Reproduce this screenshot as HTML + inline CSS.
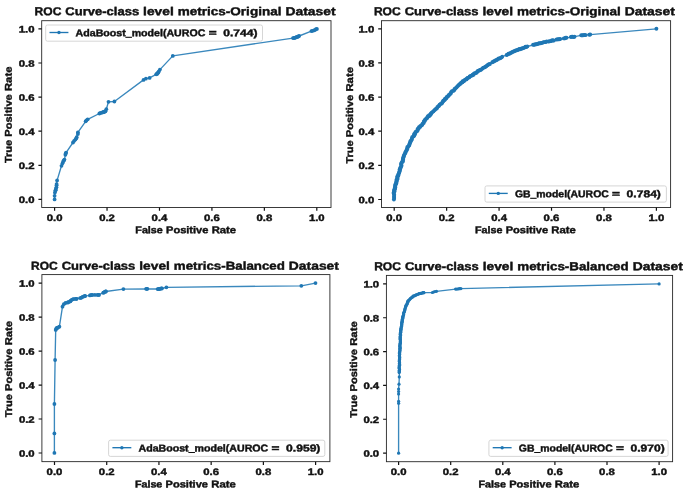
<!DOCTYPE html>
<html><head><meta charset="utf-8"><title>ROC Curves</title>
<style>html,body{margin:0;padding:0;background:#fff}svg{display:block;filter:blur(0.55px)}text{font-family:"Liberation Sans",sans-serif;font-weight:bold;stroke:#111;stroke-width:.42px}</style></head>
<body>
<svg width="685" height="491" viewBox="0 0 685 491" font-family="Liberation Sans, sans-serif" font-weight="bold" fill="#111">
<rect width="685" height="491" fill="#fff"/>
<polyline fill="none" stroke="#1f77b4" stroke-width="1.35" stroke-opacity="0.88" stroke-linejoin="round" points="54.6,199.4 54.6,195.8 54.9,192.6 55.6,190.2 56.4,187.3 56.6,184.1 57.1,180.4 61.5,165.8 63.2,161.4 64.4,159.6 65.4,154.8 66.1,152.6 73.0,142.5 75.4,139.6 76.7,137.2 77.9,132.3 85.7,121.3 87.7,119.3 99.4,113.5 102.3,112.5 103.8,112.2 105.5,111.3 106.3,109.2 108.5,101.8 114.4,101.5 143.5,79.9 145.9,78.7 149.6,77.9 156.2,74.3 157.2,73.6 158.2,72.5 159.9,69.6 172.8,55.9 293.0,38.1 294.7,37.8 296.0,37.3 297.3,36.9 299.1,36.0 311.4,31.1 314.0,30.4 316.0,29.2 316.9,28.9"/>
<g fill="#1f77b4"><circle cx="54.6" cy="199.4" r="1.9"/><circle cx="54.6" cy="195.8" r="1.9"/><circle cx="54.9" cy="192.6" r="1.9"/><circle cx="55.6" cy="190.2" r="1.9"/><circle cx="56.4" cy="187.3" r="1.9"/><circle cx="56.6" cy="184.1" r="1.9"/><circle cx="57.1" cy="180.4" r="1.9"/><circle cx="61.5" cy="165.8" r="1.9"/><circle cx="63.2" cy="161.4" r="1.9"/><circle cx="64.4" cy="159.6" r="1.9"/><circle cx="65.4" cy="154.8" r="1.9"/><circle cx="66.1" cy="152.6" r="1.9"/><circle cx="73.0" cy="142.5" r="1.9"/><circle cx="75.4" cy="139.6" r="1.9"/><circle cx="76.7" cy="137.2" r="1.9"/><circle cx="77.9" cy="132.3" r="1.9"/><circle cx="85.7" cy="121.3" r="1.9"/><circle cx="87.7" cy="119.3" r="1.9"/><circle cx="99.4" cy="113.5" r="1.9"/><circle cx="102.3" cy="112.5" r="1.9"/><circle cx="103.8" cy="112.2" r="1.9"/><circle cx="105.5" cy="111.3" r="1.9"/><circle cx="106.3" cy="109.2" r="1.9"/><circle cx="108.5" cy="101.8" r="1.9"/><circle cx="114.4" cy="101.5" r="1.9"/><circle cx="143.5" cy="79.9" r="1.9"/><circle cx="145.9" cy="78.7" r="1.9"/><circle cx="149.6" cy="77.9" r="1.9"/><circle cx="156.2" cy="74.3" r="1.9"/><circle cx="157.2" cy="73.6" r="1.9"/><circle cx="158.2" cy="72.5" r="1.9"/><circle cx="159.9" cy="69.6" r="1.9"/><circle cx="172.8" cy="55.9" r="1.9"/><circle cx="293.0" cy="38.1" r="1.9"/><circle cx="294.7" cy="37.8" r="1.9"/><circle cx="296.0" cy="37.3" r="1.9"/><circle cx="297.3" cy="36.9" r="1.9"/><circle cx="299.1" cy="36.0" r="1.9"/><circle cx="311.4" cy="31.1" r="1.9"/><circle cx="314.0" cy="30.4" r="1.9"/><circle cx="316.0" cy="29.2" r="1.9"/><circle cx="316.9" cy="28.9" r="1.9"/><circle cx="55.4" cy="190.7" r="1.9"/><circle cx="55.9" cy="189.0" r="1.9"/><circle cx="56.6" cy="185.3" r="1.9"/><circle cx="62.5" cy="163.3" r="1.9"/><circle cx="63.9" cy="160.4" r="1.9"/><circle cx="65.7" cy="153.5" r="1.9"/><circle cx="74.2" cy="140.8" r="1.9"/><circle cx="76.2" cy="138.4" r="1.9"/><circle cx="77.9" cy="134.0" r="1.9"/><circle cx="86.4" cy="120.3" r="1.9"/><circle cx="100.6" cy="113.0" r="1.9"/><circle cx="103.5" cy="112.0" r="1.9"/><circle cx="104.8" cy="111.5" r="1.9"/><circle cx="157.0" cy="73.9" r="1.9"/><circle cx="157.6" cy="73.2" r="1.9"/><circle cx="158.8" cy="71.5" r="1.9"/><circle cx="294.0" cy="38.0" r="1.9"/><circle cx="295.4" cy="37.6" r="1.9"/><circle cx="296.6" cy="37.1" r="1.9"/><circle cx="298.2" cy="36.5" r="1.9"/><circle cx="312.5" cy="30.8" r="1.9"/><circle cx="315.2" cy="29.8" r="1.9"/></g>
<rect x="41.70" y="20.70" width="289.30" height="186.80" fill="none" stroke="#262626" stroke-width="0.9"/>
<text x="46.72" y="220.87" font-size="9.35" textLength="15.77" lengthAdjust="spacingAndGlyphs" transform="matrix(1 0.0005 0 1 0 0)">0.0</text>
<text x="18.73" y="203.09" font-size="9.35" textLength="15.77" lengthAdjust="spacingAndGlyphs" transform="matrix(1 0.0005 0 1 0 0)">0.0</text>
<text x="99.16" y="220.85" font-size="9.35" textLength="15.77" lengthAdjust="spacingAndGlyphs" transform="matrix(1 0.0005 0 1 0 0)">0.2</text>
<text x="18.73" y="168.99" font-size="9.35" textLength="15.77" lengthAdjust="spacingAndGlyphs" transform="matrix(1 0.0005 0 1 0 0)">0.2</text>
<text x="151.60" y="220.82" font-size="9.35" textLength="15.77" lengthAdjust="spacingAndGlyphs" transform="matrix(1 0.0005 0 1 0 0)">0.4</text>
<text x="18.73" y="134.89" font-size="9.35" textLength="15.77" lengthAdjust="spacingAndGlyphs" transform="matrix(1 0.0005 0 1 0 0)">0.4</text>
<text x="204.04" y="220.79" font-size="9.35" textLength="15.77" lengthAdjust="spacingAndGlyphs" transform="matrix(1 0.0005 0 1 0 0)">0.6</text>
<text x="18.73" y="100.79" font-size="9.35" textLength="15.77" lengthAdjust="spacingAndGlyphs" transform="matrix(1 0.0005 0 1 0 0)">0.6</text>
<text x="256.48" y="220.77" font-size="9.35" textLength="15.77" lengthAdjust="spacingAndGlyphs" transform="matrix(1 0.0005 0 1 0 0)">0.8</text>
<text x="18.73" y="66.69" font-size="9.35" textLength="15.77" lengthAdjust="spacingAndGlyphs" transform="matrix(1 0.0005 0 1 0 0)">0.8</text>
<text x="308.92" y="220.74" font-size="9.35" textLength="15.77" lengthAdjust="spacingAndGlyphs" transform="matrix(1 0.0005 0 1 0 0)">1.0</text>
<text x="18.73" y="32.59" font-size="9.35" textLength="15.77" lengthAdjust="spacingAndGlyphs" transform="matrix(1 0.0005 0 1 0 0)">1.0</text>
<path d="M54.60 207.50v3.3 M41.70 199.40h-3.3 M107.04 207.50v3.3 M41.70 165.30h-3.3 M159.48 207.50v3.3 M41.70 131.20h-3.3 M211.92 207.50v3.3 M41.70 97.10h-3.3 M264.36 207.50v3.3 M41.70 63.00h-3.3 M316.80 207.50v3.3 M41.70 28.90h-3.3" stroke="#111" stroke-width="1.2" fill="none"/>
<text x="34.62" y="15.18" font-size="11.61" textLength="26.79" lengthAdjust="spacingAndGlyphs" transform="matrix(1 0.0005 0 1 0 0)">ROC</text>
<text x="65.37" y="15.15" font-size="11.61" textLength="73.80" lengthAdjust="spacingAndGlyphs" transform="matrix(1 0.0005 0 1 0 0)">Curve-class</text>
<text x="143.13" y="15.12" font-size="11.61" textLength="30.66" lengthAdjust="spacingAndGlyphs" transform="matrix(1 0.0005 0 1 0 0)">level</text>
<text x="177.75" y="15.09" font-size="11.61" textLength="103.69" lengthAdjust="spacingAndGlyphs" transform="matrix(1 0.0005 0 1 0 0)">metrics-Original</text>
<text x="285.40" y="15.04" font-size="11.61" textLength="50.18" lengthAdjust="spacingAndGlyphs" transform="matrix(1 0.0005 0 1 0 0)">Dataset</text>
<text x="135.36" y="233.23" font-size="9.87" textLength="27.41" lengthAdjust="spacingAndGlyphs" transform="matrix(1 0.0005 0 1 0 0)">False</text>
<text x="166.04" y="233.21" font-size="9.87" textLength="42.38" lengthAdjust="spacingAndGlyphs" transform="matrix(1 0.0005 0 1 0 0)">Positive</text>
<text x="211.69" y="233.19" font-size="9.87" textLength="24.45" lengthAdjust="spacingAndGlyphs" transform="matrix(1 0.0005 0 1 0 0)">Rate</text>
<g transform="translate(11.80 114.80) rotate(-90)"><text x="-48.23" y="0.02" font-size="9.87" textLength="23.08" lengthAdjust="spacingAndGlyphs" transform="matrix(1 0.0005 0 1 0 0)">True</text>
<text x="-21.88" y="0.00" font-size="9.87" textLength="42.38" lengthAdjust="spacingAndGlyphs" transform="matrix(1 0.0005 0 1 0 0)">Positive</text>
<text x="23.78" y="-0.02" font-size="9.87" textLength="24.45" lengthAdjust="spacingAndGlyphs" transform="matrix(1 0.0005 0 1 0 0)">Rate</text></g>
<rect x="45.70" y="25.00" width="216.80" height="16.20" rx="1.8" fill="#fff" fill-opacity="0.8" stroke="#cccccc" stroke-width="0.8"/>
<line x1="49.49" y1="32.50" x2="68.43" y2="32.50" stroke="#1f77b4" stroke-width="1.35"/><circle cx="58.96" cy="32.50" r="1.7" fill="#1f77b4"/>
<text x="75.60" y="36.23" font-size="9.94" textLength="129.80" lengthAdjust="spacingAndGlyphs" transform="matrix(1 0.0005 0 1 0 0)">AdaBoost_model(AUROC</text>
<text x="208.69" y="36.19" font-size="9.94" textLength="7.93" lengthAdjust="spacingAndGlyphs" transform="matrix(1 0.0005 0 1 0 0)">=</text>
<text x="223.22" y="36.18" font-size="9.94" textLength="34.28" lengthAdjust="spacingAndGlyphs" transform="matrix(1 0.0005 0 1 0 0)">0.744)</text>
<polyline fill="none" stroke="#1f77b4" stroke-width="1.35" stroke-opacity="0.88" stroke-linejoin="round" points="394.2,199.5 394.2,198.0 394.1,195.9 394.1,193.6 394.2,191.5 394.4,189.8 394.7,188.1 395.1,186.5 395.5,184.9 395.9,183.3 396.3,181.7 396.8,180.0 397.3,178.3 397.8,176.4 398.4,174.4 398.9,172.3 399.5,170.3 400.1,168.4 400.8,166.4 401.4,164.5 402.1,162.4 402.7,160.1 403.4,157.8 404.0,155.4 404.8,153.1 405.7,151.0 406.7,149.1 407.7,147.1 408.7,145.2 409.7,143.2 410.6,141.2 411.6,139.2 412.7,137.2 413.9,135.2 415.3,133.2 416.6,131.2 418.0,129.3 419.3,127.6 420.6,126.0 421.9,124.4 423.3,122.7 424.9,120.8 426.5,118.7 428.2,116.6 429.9,114.7 431.6,113.0 433.2,111.3 434.8,109.7 436.5,108.1 438.1,106.5 439.8,104.8 441.4,103.2 443.1,101.5 444.8,99.7 446.5,97.8 448.1,95.9 449.8,94.1 451.4,92.4 453.0,90.8 454.7,89.2 456.4,87.5 458.1,85.9 459.7,84.3 461.7,82.6 464.2,80.6 467.7,78.1 472.0,75.3 476.3,72.5 480.0,70.1 482.9,68.2 485.3,66.7 487.6,65.3 490.0,63.8 492.6,62.3 495.2,60.7 497.8,59.2 500.4,57.8 502.9,56.5 505.4,55.3 508.0,54.1 510.5,53.0 513.1,51.8 515.7,50.7 518.3,49.6 520.9,48.6 523.4,47.7 526.0,46.9 528.5,46.2 531.0,45.5 533.6,44.8 536.1,44.1 538.7,43.5 541.3,42.9 543.9,42.3 546.4,41.8 548.9,41.2 551.5,40.7 554.1,40.2 556.6,39.7 559.2,39.3 561.8,38.8 564.4,38.3 566.9,37.9 569.5,37.4 572.0,37.0 574.6,36.6 577.2,36.1 579.8,35.7 582.2,35.4 584.6,35.1 586.9,34.9 589.0,34.7 590.4,34.6 656.4,28.8"/>
<g fill="#1f77b4"><circle cx="393.9" cy="199.5" r="1.95"/><circle cx="394.2" cy="198.0" r="1.95"/><circle cx="394.0" cy="197.0" r="1.95"/><circle cx="394.2" cy="195.9" r="1.95"/><circle cx="394.2" cy="194.8" r="1.95"/><circle cx="393.7" cy="193.6" r="1.95"/><circle cx="393.7" cy="192.5" r="1.95"/><circle cx="394.5" cy="191.5" r="1.95"/><circle cx="394.1" cy="190.6" r="1.95"/><circle cx="394.2" cy="189.7" r="1.95"/><circle cx="395.1" cy="189.0" r="1.95"/><circle cx="394.7" cy="188.1" r="1.95"/><circle cx="395.3" cy="187.4" r="1.95"/><circle cx="395.1" cy="186.5" r="1.95"/><circle cx="395.4" cy="185.7" r="1.95"/><circle cx="395.2" cy="184.8" r="1.95"/><circle cx="395.8" cy="184.1" r="1.95"/><circle cx="396.3" cy="183.4" r="1.95"/><circle cx="396.1" cy="182.5" r="1.95"/><circle cx="396.6" cy="181.8" r="1.95"/><circle cx="396.7" cy="180.9" r="1.95"/><circle cx="396.4" cy="179.9" r="1.95"/><circle cx="397.3" cy="179.2" r="1.95"/><circle cx="397.4" cy="178.3" r="1.95"/><circle cx="397.4" cy="177.3" r="1.95"/><circle cx="397.4" cy="176.3" r="1.95"/><circle cx="398.4" cy="175.5" r="1.95"/><circle cx="398.3" cy="174.4" r="1.95"/><circle cx="398.8" cy="173.4" r="1.95"/><circle cx="399.3" cy="172.4" r="1.95"/><circle cx="399.4" cy="171.4" r="1.95"/><circle cx="399.9" cy="170.4" r="1.95"/><circle cx="399.7" cy="169.3" r="1.95"/><circle cx="400.4" cy="168.4" r="1.95"/><circle cx="400.4" cy="167.4" r="1.95"/><circle cx="401.2" cy="166.6" r="1.95"/><circle cx="401.5" cy="165.6" r="1.95"/><circle cx="401.1" cy="164.3" r="1.95"/><circle cx="401.4" cy="163.3" r="1.95"/><circle cx="401.8" cy="162.3" r="1.95"/><circle cx="402.9" cy="161.4" r="1.95"/><circle cx="402.7" cy="160.1" r="1.95"/><circle cx="403.1" cy="159.4" r="1.95"/><circle cx="403.0" cy="158.5" r="1.95"/><circle cx="403.4" cy="157.8" r="1.95"/><circle cx="403.5" cy="156.9" r="1.95"/><circle cx="403.7" cy="156.1" r="1.95"/><circle cx="404.1" cy="155.4" r="1.95"/><circle cx="404.5" cy="154.3" r="1.95"/><circle cx="405.2" cy="153.3" r="1.95"/><circle cx="405.4" cy="152.1" r="1.95"/><circle cx="406.1" cy="151.2" r="1.95"/><circle cx="406.5" cy="150.2" r="1.95"/><circle cx="407.1" cy="149.3" r="1.95"/><circle cx="407.3" cy="148.2" r="1.95"/><circle cx="407.4" cy="147.0" r="1.95"/><circle cx="408.5" cy="146.3" r="1.95"/><circle cx="409.1" cy="145.4" r="1.95"/><circle cx="409.5" cy="144.4" r="1.95"/><circle cx="409.7" cy="143.2" r="1.95"/><circle cx="410.3" cy="142.3" r="1.95"/><circle cx="410.4" cy="141.1" r="1.95"/><circle cx="411.4" cy="140.3" r="1.95"/><circle cx="411.7" cy="139.2" r="1.95"/><circle cx="412.0" cy="138.1" r="1.95"/><circle cx="412.3" cy="137.0" r="1.95"/><circle cx="413.6" cy="136.4" r="1.95"/><circle cx="414.3" cy="135.5" r="1.95"/><circle cx="414.0" cy="134.3" r="1.95"/><circle cx="415.1" cy="134.0" r="1.95"/><circle cx="415.2" cy="133.1" r="1.95"/><circle cx="415.4" cy="132.3" r="1.95"/><circle cx="416.0" cy="131.7" r="1.95"/><circle cx="416.9" cy="131.3" r="1.95"/><circle cx="417.6" cy="130.5" r="1.95"/><circle cx="417.6" cy="129.0" r="1.95"/><circle cx="418.7" cy="128.5" r="1.95"/><circle cx="418.9" cy="127.3" r="1.95"/><circle cx="420.1" cy="126.9" r="1.95"/><circle cx="420.4" cy="125.9" r="1.95"/><circle cx="421.5" cy="125.5" r="1.95"/><circle cx="422.3" cy="124.7" r="1.95"/><circle cx="422.6" cy="123.6" r="1.95"/><circle cx="423.7" cy="123.0" r="1.95"/><circle cx="423.7" cy="121.9" r="1.95"/><circle cx="424.0" cy="121.1" r="1.95"/><circle cx="424.9" cy="120.8" r="1.95"/><circle cx="425.0" cy="119.8" r="1.95"/><circle cx="425.7" cy="119.2" r="1.95"/><circle cx="426.4" cy="118.6" r="1.95"/><circle cx="427.2" cy="118.1" r="1.95"/><circle cx="427.4" cy="117.1" r="1.95"/><circle cx="427.9" cy="116.3" r="1.95"/><circle cx="429.1" cy="116.2" r="1.95"/><circle cx="429.2" cy="115.2" r="1.95"/><circle cx="430.2" cy="115.0" r="1.95"/><circle cx="430.7" cy="114.4" r="1.95"/><circle cx="430.9" cy="113.5" r="1.95"/><circle cx="431.5" cy="112.9" r="1.95"/><circle cx="432.4" cy="112.1" r="1.95"/><circle cx="433.3" cy="111.4" r="1.95"/><circle cx="434.1" cy="110.6" r="1.95"/><circle cx="434.9" cy="109.8" r="1.95"/><circle cx="435.8" cy="109.0" r="1.95"/><circle cx="436.8" cy="108.4" r="1.95"/><circle cx="437.3" cy="107.3" r="1.95"/><circle cx="438.1" cy="106.4" r="1.95"/><circle cx="439.1" cy="105.8" r="1.95"/><circle cx="439.6" cy="104.7" r="1.95"/><circle cx="440.5" cy="103.9" r="1.95"/><circle cx="441.8" cy="103.5" r="1.95"/><circle cx="442.3" cy="102.4" r="1.95"/><circle cx="443.1" cy="101.5" r="1.95"/><circle cx="443.3" cy="100.6" r="1.95"/><circle cx="444.2" cy="100.2" r="1.95"/><circle cx="444.8" cy="99.7" r="1.95"/><circle cx="445.0" cy="98.7" r="1.95"/><circle cx="446.0" cy="98.5" r="1.95"/><circle cx="446.5" cy="97.9" r="1.95"/><circle cx="446.7" cy="96.9" r="1.95"/><circle cx="447.7" cy="96.6" r="1.95"/><circle cx="448.1" cy="95.9" r="1.95"/><circle cx="448.8" cy="95.4" r="1.95"/><circle cx="449.1" cy="94.6" r="1.95"/><circle cx="449.9" cy="94.2" r="1.95"/><circle cx="450.8" cy="93.4" r="1.95"/><circle cx="451.1" cy="92.1" r="1.95"/><circle cx="451.9" cy="91.3" r="1.95"/><circle cx="453.2" cy="90.9" r="1.95"/><circle cx="454.2" cy="90.3" r="1.95"/><circle cx="454.5" cy="89.0" r="1.95"/><circle cx="455.5" cy="88.3" r="1.95"/><circle cx="456.5" cy="87.6" r="1.95"/><circle cx="457.1" cy="86.6" r="1.95"/><circle cx="458.0" cy="85.8" r="1.95"/><circle cx="458.8" cy="85.0" r="1.95"/><circle cx="459.6" cy="84.2" r="1.95"/><circle cx="460.4" cy="83.8" r="1.95"/><circle cx="460.9" cy="83.0" r="1.95"/><circle cx="461.6" cy="82.5" r="1.95"/><circle cx="462.5" cy="82.3" r="1.95"/><circle cx="462.6" cy="81.2" r="1.95"/><circle cx="463.6" cy="81.2" r="1.95"/><circle cx="464.3" cy="80.8" r="1.95"/><circle cx="464.8" cy="80.0" r="1.95"/><circle cx="465.5" cy="79.4" r="1.95"/><circle cx="466.5" cy="79.4" r="1.95"/><circle cx="466.9" cy="78.4" r="1.95"/><circle cx="467.6" cy="77.9" r="1.95"/><circle cx="468.4" cy="77.6" r="1.95"/><circle cx="469.2" cy="77.4" r="1.95"/><circle cx="469.6" cy="76.4" r="1.95"/><circle cx="470.5" cy="76.1" r="1.95"/><circle cx="471.2" cy="75.6" r="1.95"/><circle cx="472.1" cy="75.6" r="1.95"/><circle cx="472.6" cy="74.8" r="1.95"/><circle cx="473.6" cy="74.7" r="1.95"/><circle cx="473.9" cy="73.6" r="1.95"/><circle cx="474.7" cy="73.3" r="1.95"/><circle cx="475.6" cy="73.1" r="1.95"/><circle cx="476.5" cy="72.8" r="1.95"/><circle cx="477.0" cy="72.0" r="1.95"/><circle cx="477.6" cy="71.3" r="1.95"/><circle cx="478.3" cy="70.7" r="1.95"/><circle cx="479.3" cy="70.6" r="1.95"/><circle cx="480.0" cy="70.1" r="1.95"/><circle cx="480.0" cy="69.9" r="1.95"/><circle cx="480.9" cy="69.7" r="1.95"/><circle cx="481.8" cy="69.1" r="1.95"/><circle cx="482.7" cy="68.2" r="1.95"/><circle cx="483.6" cy="67.6" r="1.95"/><circle cx="484.5" cy="67.4" r="1.95"/><circle cx="485.4" cy="66.7" r="1.95"/><circle cx="486.3" cy="66.3" r="1.95"/><circle cx="487.2" cy="65.4" r="1.95"/><circle cx="488.1" cy="64.7" r="1.95"/><circle cx="489.0" cy="64.3" r="1.95"/><circle cx="489.9" cy="64.0" r="1.95"/><circle cx="492.3" cy="62.3" r="1.95"/><circle cx="493.2" cy="61.8" r="1.95"/><circle cx="494.1" cy="61.3" r="1.95"/><circle cx="495.0" cy="60.8" r="1.95"/><circle cx="495.9" cy="60.2" r="1.95"/><circle cx="496.8" cy="60.0" r="1.95"/><circle cx="497.7" cy="59.1" r="1.95"/><circle cx="498.6" cy="58.5" r="1.95"/><circle cx="499.5" cy="58.6" r="1.95"/><circle cx="500.4" cy="58.0" r="1.95"/><circle cx="501.3" cy="57.6" r="1.95"/><circle cx="502.2" cy="56.8" r="1.95"/><circle cx="506.6" cy="55.0" r="1.95"/><circle cx="507.5" cy="54.6" r="1.95"/><circle cx="508.4" cy="53.8" r="1.95"/><circle cx="509.3" cy="53.7" r="1.95"/><circle cx="510.2" cy="53.3" r="1.95"/><circle cx="511.1" cy="52.8" r="1.95"/><circle cx="512.0" cy="52.3" r="1.95"/><circle cx="512.9" cy="51.8" r="1.95"/><circle cx="513.8" cy="51.4" r="1.95"/><circle cx="514.7" cy="51.0" r="1.95"/><circle cx="515.6" cy="50.5" r="1.95"/><circle cx="516.5" cy="50.4" r="1.95"/><circle cx="517.4" cy="49.9" r="1.95"/><circle cx="518.3" cy="49.8" r="1.95"/><circle cx="519.2" cy="49.0" r="1.95"/><circle cx="520.1" cy="49.2" r="1.95"/><circle cx="521.0" cy="48.7" r="1.95"/><circle cx="521.9" cy="48.5" r="1.95"/><circle cx="522.8" cy="48.2" r="1.95"/><circle cx="523.7" cy="47.9" r="1.95"/><circle cx="524.6" cy="47.4" r="1.95"/><circle cx="525.5" cy="46.8" r="1.95"/><circle cx="526.4" cy="47.0" r="1.95"/><circle cx="527.3" cy="46.4" r="1.95"/><circle cx="533.1" cy="44.8" r="1.95"/><circle cx="534.0" cy="44.8" r="1.95"/><circle cx="534.9" cy="44.5" r="1.95"/><circle cx="535.8" cy="44.2" r="1.95"/><circle cx="536.7" cy="44.3" r="1.95"/><circle cx="537.6" cy="43.9" r="1.95"/><circle cx="538.5" cy="43.5" r="1.95"/><circle cx="539.4" cy="43.2" r="1.95"/><circle cx="540.3" cy="43.4" r="1.95"/><circle cx="541.2" cy="42.9" r="1.95"/><circle cx="542.1" cy="42.9" r="1.95"/><circle cx="543.0" cy="42.4" r="1.95"/><circle cx="543.9" cy="42.1" r="1.95"/><circle cx="544.8" cy="42.1" r="1.95"/><circle cx="545.7" cy="42.1" r="1.95"/><circle cx="546.6" cy="41.5" r="1.95"/><circle cx="548.5" cy="41.5" r="1.95"/><circle cx="549.4" cy="41.4" r="1.95"/><circle cx="550.3" cy="41.1" r="1.95"/><circle cx="551.2" cy="41.0" r="1.95"/><circle cx="552.1" cy="40.3" r="1.95"/><circle cx="553.0" cy="40.5" r="1.95"/><circle cx="553.9" cy="40.5" r="1.95"/><circle cx="556.6" cy="39.5" r="1.95"/><circle cx="557.5" cy="39.4" r="1.95"/><circle cx="558.4" cy="39.3" r="1.95"/><circle cx="559.3" cy="39.3" r="1.95"/><circle cx="560.2" cy="39.0" r="1.95"/><circle cx="563.8" cy="38.4" r="1.95"/><circle cx="564.7" cy="38.4" r="1.95"/><circle cx="565.6" cy="37.8" r="1.95"/><circle cx="566.5" cy="37.7" r="1.95"/><circle cx="570.9" cy="37.0" r="1.95"/><circle cx="571.8" cy="36.8" r="1.95"/><circle cx="572.7" cy="36.6" r="1.95"/><circle cx="573.6" cy="37.0" r="1.95"/><circle cx="574.5" cy="36.8" r="1.95"/><circle cx="581.2" cy="35.3" r="1.95"/><circle cx="582.1" cy="35.4" r="1.95"/><circle cx="583.0" cy="35.2" r="1.95"/><circle cx="583.9" cy="35.1" r="1.95"/><circle cx="584.8" cy="35.0" r="1.95"/><circle cx="585.7" cy="35.1" r="1.95"/><circle cx="589.3" cy="34.7" r="1.95"/><circle cx="590.2" cy="34.5" r="1.95"/><circle cx="656.4" cy="28.8" r="1.95"/></g>
<rect x="381.50" y="20.70" width="289.10" height="186.80" fill="none" stroke="#262626" stroke-width="0.9"/>
<text x="386.32" y="220.70" font-size="9.35" textLength="15.77" lengthAdjust="spacingAndGlyphs" transform="matrix(1 0.0005 0 1 0 0)">0.0</text>
<text x="358.53" y="203.02" font-size="9.35" textLength="15.77" lengthAdjust="spacingAndGlyphs" transform="matrix(1 0.0005 0 1 0 0)">0.0</text>
<text x="438.76" y="220.68" font-size="9.35" textLength="15.77" lengthAdjust="spacingAndGlyphs" transform="matrix(1 0.0005 0 1 0 0)">0.2</text>
<text x="358.53" y="168.88" font-size="9.35" textLength="15.77" lengthAdjust="spacingAndGlyphs" transform="matrix(1 0.0005 0 1 0 0)">0.2</text>
<text x="491.20" y="220.65" font-size="9.35" textLength="15.77" lengthAdjust="spacingAndGlyphs" transform="matrix(1 0.0005 0 1 0 0)">0.4</text>
<text x="358.53" y="134.74" font-size="9.35" textLength="15.77" lengthAdjust="spacingAndGlyphs" transform="matrix(1 0.0005 0 1 0 0)">0.4</text>
<text x="543.64" y="220.62" font-size="9.35" textLength="15.77" lengthAdjust="spacingAndGlyphs" transform="matrix(1 0.0005 0 1 0 0)">0.6</text>
<text x="358.53" y="100.60" font-size="9.35" textLength="15.77" lengthAdjust="spacingAndGlyphs" transform="matrix(1 0.0005 0 1 0 0)">0.6</text>
<text x="596.08" y="220.60" font-size="9.35" textLength="15.77" lengthAdjust="spacingAndGlyphs" transform="matrix(1 0.0005 0 1 0 0)">0.8</text>
<text x="358.53" y="66.46" font-size="9.35" textLength="15.77" lengthAdjust="spacingAndGlyphs" transform="matrix(1 0.0005 0 1 0 0)">0.8</text>
<text x="648.52" y="220.57" font-size="9.35" textLength="15.77" lengthAdjust="spacingAndGlyphs" transform="matrix(1 0.0005 0 1 0 0)">1.0</text>
<text x="358.53" y="32.32" font-size="9.35" textLength="15.77" lengthAdjust="spacingAndGlyphs" transform="matrix(1 0.0005 0 1 0 0)">1.0</text>
<path d="M394.20 207.50v3.3 M381.50 199.50h-3.3 M446.64 207.50v3.3 M381.50 165.36h-3.3 M499.08 207.50v3.3 M381.50 131.22h-3.3 M551.52 207.50v3.3 M381.50 97.08h-3.3 M603.96 207.50v3.3 M381.50 62.94h-3.3 M656.40 207.50v3.3 M381.50 28.80h-3.3" stroke="#111" stroke-width="1.2" fill="none"/>
<text x="373.92" y="15.01" font-size="11.61" textLength="26.79" lengthAdjust="spacingAndGlyphs" transform="matrix(1 0.0005 0 1 0 0)">ROC</text>
<text x="404.67" y="14.98" font-size="11.61" textLength="73.80" lengthAdjust="spacingAndGlyphs" transform="matrix(1 0.0005 0 1 0 0)">Curve-class</text>
<text x="482.43" y="14.95" font-size="11.61" textLength="30.66" lengthAdjust="spacingAndGlyphs" transform="matrix(1 0.0005 0 1 0 0)">level</text>
<text x="517.05" y="14.92" font-size="11.61" textLength="103.69" lengthAdjust="spacingAndGlyphs" transform="matrix(1 0.0005 0 1 0 0)">metrics-Original</text>
<text x="624.70" y="14.88" font-size="11.61" textLength="50.18" lengthAdjust="spacingAndGlyphs" transform="matrix(1 0.0005 0 1 0 0)">Dataset</text>
<text x="475.06" y="233.06" font-size="9.87" textLength="27.41" lengthAdjust="spacingAndGlyphs" transform="matrix(1 0.0005 0 1 0 0)">False</text>
<text x="505.74" y="233.04" font-size="9.87" textLength="42.38" lengthAdjust="spacingAndGlyphs" transform="matrix(1 0.0005 0 1 0 0)">Positive</text>
<text x="551.39" y="233.02" font-size="9.87" textLength="24.45" lengthAdjust="spacingAndGlyphs" transform="matrix(1 0.0005 0 1 0 0)">Rate</text>
<g transform="translate(353.10 115.30) rotate(-90)"><text x="-48.23" y="0.02" font-size="9.87" textLength="23.08" lengthAdjust="spacingAndGlyphs" transform="matrix(1 0.0005 0 1 0 0)">True</text>
<text x="-21.88" y="0.00" font-size="9.87" textLength="42.38" lengthAdjust="spacingAndGlyphs" transform="matrix(1 0.0005 0 1 0 0)">Positive</text>
<text x="23.78" y="-0.02" font-size="9.87" textLength="24.45" lengthAdjust="spacingAndGlyphs" transform="matrix(1 0.0005 0 1 0 0)">Rate</text></g>
<rect x="485.00" y="185.90" width="181.40" height="16.20" rx="1.8" fill="#fff" fill-opacity="0.8" stroke="#cccccc" stroke-width="0.8"/>
<line x1="488.79" y1="193.40" x2="507.73" y2="193.40" stroke="#1f77b4" stroke-width="1.35"/><circle cx="498.26" cy="193.40" r="1.7" fill="#1f77b4"/>
<text x="514.90" y="196.92" font-size="9.94" textLength="93.90" lengthAdjust="spacingAndGlyphs" transform="matrix(1 0.0005 0 1 0 0)">GB_model(AUROC</text>
<text x="612.09" y="196.89" font-size="9.94" textLength="7.93" lengthAdjust="spacingAndGlyphs" transform="matrix(1 0.0005 0 1 0 0)">=</text>
<text x="626.62" y="196.88" font-size="9.94" textLength="34.28" lengthAdjust="spacingAndGlyphs" transform="matrix(1 0.0005 0 1 0 0)">0.784)</text>
<polyline fill="none" stroke="#1f77b4" stroke-width="1.35" stroke-opacity="0.88" stroke-linejoin="round" points="54.4,452.9 54.4,433.4 54.4,404.0 55.1,360.0 55.7,329.9 56.9,328.2 59.4,326.7 62.5,306.7 63.8,304.2 67.9,302.5 70.4,301.3 72.8,299.3 76.5,298.8 81.4,297.6 85.0,296.1 91.1,295.2 98.5,294.9 103.4,292.7 105.8,291.5 123.4,289.1 146.9,288.8 158.6,289.0 159.9,288.8 161.9,288.5 166.4,287.3 301.3,285.8 315.5,283.1"/>
<g fill="#1f77b4"><circle cx="54.4" cy="452.9" r="1.9"/><circle cx="54.4" cy="433.4" r="1.9"/><circle cx="54.4" cy="404.0" r="1.9"/><circle cx="55.1" cy="360.0" r="1.9"/><circle cx="55.7" cy="329.9" r="1.9"/><circle cx="56.9" cy="328.2" r="1.9"/><circle cx="59.4" cy="326.7" r="1.9"/><circle cx="62.5" cy="306.7" r="1.9"/><circle cx="63.8" cy="304.2" r="1.9"/><circle cx="67.9" cy="302.5" r="1.9"/><circle cx="70.4" cy="301.3" r="1.9"/><circle cx="72.8" cy="299.3" r="1.9"/><circle cx="76.5" cy="298.8" r="1.9"/><circle cx="81.4" cy="297.6" r="1.9"/><circle cx="85.0" cy="296.1" r="1.9"/><circle cx="91.1" cy="295.2" r="1.9"/><circle cx="98.5" cy="294.9" r="1.9"/><circle cx="103.4" cy="292.7" r="1.9"/><circle cx="105.8" cy="291.5" r="1.9"/><circle cx="123.4" cy="289.1" r="1.9"/><circle cx="146.9" cy="288.8" r="1.9"/><circle cx="158.6" cy="289.0" r="1.9"/><circle cx="159.9" cy="288.8" r="1.9"/><circle cx="161.9" cy="288.5" r="1.9"/><circle cx="166.4" cy="287.3" r="1.9"/><circle cx="301.3" cy="285.8" r="1.9"/><circle cx="315.5" cy="283.1" r="1.9"/><circle cx="56.2" cy="328.7" r="1.9"/><circle cx="56.9" cy="327.9" r="1.9"/><circle cx="58.1" cy="327.4" r="1.9"/><circle cx="65.5" cy="303.0" r="1.9"/><circle cx="67.9" cy="302.3" r="1.9"/><circle cx="69.1" cy="301.8" r="1.9"/><circle cx="70.4" cy="301.0" r="1.9"/><circle cx="71.6" cy="299.8" r="1.9"/><circle cx="73.5" cy="299.1" r="1.9"/><circle cx="75.2" cy="298.8" r="1.9"/><circle cx="76.5" cy="298.8" r="1.9"/><circle cx="80.1" cy="298.1" r="1.9"/><circle cx="81.4" cy="297.6" r="1.9"/><circle cx="82.6" cy="296.9" r="1.9"/><circle cx="83.8" cy="296.4" r="1.9"/><circle cx="85.0" cy="295.9" r="1.9"/><circle cx="89.9" cy="295.4" r="1.9"/><circle cx="91.1" cy="295.2" r="1.9"/><circle cx="92.4" cy="294.9" r="1.9"/><circle cx="94.8" cy="294.9" r="1.9"/><circle cx="97.2" cy="294.9" r="1.9"/><circle cx="99.0" cy="294.9" r="1.9"/><circle cx="103.4" cy="292.7" r="1.9"/><circle cx="104.6" cy="292.0" r="1.9"/><circle cx="105.8" cy="291.5" r="1.9"/><circle cx="146.1" cy="288.8" r="1.9"/><circle cx="147.3" cy="288.8" r="1.9"/><circle cx="157.6" cy="289.1" r="1.9"/><circle cx="159.1" cy="289.1" r="1.9"/><circle cx="160.3" cy="288.6" r="1.9"/><circle cx="161.5" cy="288.3" r="1.9"/></g>
<rect x="41.90" y="274.60" width="288.00" height="187.05" fill="none" stroke="#262626" stroke-width="0.9"/>
<text x="46.62" y="475.02" font-size="9.35" textLength="15.77" lengthAdjust="spacingAndGlyphs" transform="matrix(1 0.0005 0 1 0 0)">0.0</text>
<text x="18.93" y="456.69" font-size="9.35" textLength="15.77" lengthAdjust="spacingAndGlyphs" transform="matrix(1 0.0005 0 1 0 0)">0.0</text>
<text x="98.84" y="475.00" font-size="9.35" textLength="15.77" lengthAdjust="spacingAndGlyphs" transform="matrix(1 0.0005 0 1 0 0)">0.2</text>
<text x="18.93" y="422.71" font-size="9.35" textLength="15.77" lengthAdjust="spacingAndGlyphs" transform="matrix(1 0.0005 0 1 0 0)">0.2</text>
<text x="151.06" y="474.97" font-size="9.35" textLength="15.77" lengthAdjust="spacingAndGlyphs" transform="matrix(1 0.0005 0 1 0 0)">0.4</text>
<text x="18.93" y="388.73" font-size="9.35" textLength="15.77" lengthAdjust="spacingAndGlyphs" transform="matrix(1 0.0005 0 1 0 0)">0.4</text>
<text x="203.28" y="474.94" font-size="9.35" textLength="15.77" lengthAdjust="spacingAndGlyphs" transform="matrix(1 0.0005 0 1 0 0)">0.6</text>
<text x="18.93" y="354.75" font-size="9.35" textLength="15.77" lengthAdjust="spacingAndGlyphs" transform="matrix(1 0.0005 0 1 0 0)">0.6</text>
<text x="255.50" y="474.92" font-size="9.35" textLength="15.77" lengthAdjust="spacingAndGlyphs" transform="matrix(1 0.0005 0 1 0 0)">0.8</text>
<text x="18.93" y="320.77" font-size="9.35" textLength="15.77" lengthAdjust="spacingAndGlyphs" transform="matrix(1 0.0005 0 1 0 0)">0.8</text>
<text x="307.72" y="474.89" font-size="9.35" textLength="15.77" lengthAdjust="spacingAndGlyphs" transform="matrix(1 0.0005 0 1 0 0)">1.0</text>
<text x="18.93" y="286.79" font-size="9.35" textLength="15.77" lengthAdjust="spacingAndGlyphs" transform="matrix(1 0.0005 0 1 0 0)">1.0</text>
<path d="M54.50 461.65v3.3 M41.90 453.00h-3.3 M106.72 461.65v3.3 M41.90 419.02h-3.3 M158.94 461.65v3.3 M41.90 385.04h-3.3 M211.16 461.65v3.3 M41.90 351.06h-3.3 M263.38 461.65v3.3 M41.90 317.08h-3.3 M315.60 461.65v3.3 M41.90 283.10h-3.3" stroke="#111" stroke-width="1.2" fill="none"/>
<text x="31.06" y="269.68" font-size="11.58" textLength="26.72" lengthAdjust="spacingAndGlyphs" transform="matrix(1 0.0005 0 1 0 0)">ROC</text>
<text x="61.73" y="269.65" font-size="11.58" textLength="73.60" lengthAdjust="spacingAndGlyphs" transform="matrix(1 0.0005 0 1 0 0)">Curve-class</text>
<text x="139.29" y="269.62" font-size="11.58" textLength="30.58" lengthAdjust="spacingAndGlyphs" transform="matrix(1 0.0005 0 1 0 0)">level</text>
<text x="173.82" y="269.59" font-size="11.58" textLength="111.12" lengthAdjust="spacingAndGlyphs" transform="matrix(1 0.0005 0 1 0 0)">metrics-Balanced</text>
<text x="288.89" y="269.54" font-size="11.58" textLength="50.04" lengthAdjust="spacingAndGlyphs" transform="matrix(1 0.0005 0 1 0 0)">Dataset</text>
<text x="134.91" y="487.38" font-size="9.87" textLength="27.41" lengthAdjust="spacingAndGlyphs" transform="matrix(1 0.0005 0 1 0 0)">False</text>
<text x="165.59" y="487.36" font-size="9.87" textLength="42.38" lengthAdjust="spacingAndGlyphs" transform="matrix(1 0.0005 0 1 0 0)">Positive</text>
<text x="211.24" y="487.34" font-size="9.87" textLength="24.45" lengthAdjust="spacingAndGlyphs" transform="matrix(1 0.0005 0 1 0 0)">Rate</text>
<g transform="translate(12.00 369.12) rotate(-90)"><text x="-48.23" y="0.02" font-size="9.87" textLength="23.08" lengthAdjust="spacingAndGlyphs" transform="matrix(1 0.0005 0 1 0 0)">True</text>
<text x="-21.88" y="0.00" font-size="9.87" textLength="42.38" lengthAdjust="spacingAndGlyphs" transform="matrix(1 0.0005 0 1 0 0)">Positive</text>
<text x="23.78" y="-0.02" font-size="9.87" textLength="24.45" lengthAdjust="spacingAndGlyphs" transform="matrix(1 0.0005 0 1 0 0)">Rate</text></g>
<rect x="108.60" y="440.20" width="216.20" height="16.20" rx="1.8" fill="#fff" fill-opacity="0.8" stroke="#cccccc" stroke-width="0.8"/>
<line x1="112.39" y1="447.70" x2="131.33" y2="447.70" stroke="#1f77b4" stroke-width="1.35"/><circle cx="121.86" cy="447.70" r="1.7" fill="#1f77b4"/>
<text x="138.50" y="451.40" font-size="9.94" textLength="129.80" lengthAdjust="spacingAndGlyphs" transform="matrix(1 0.0005 0 1 0 0)">AdaBoost_model(AUROC</text>
<text x="271.59" y="451.36" font-size="9.94" textLength="7.93" lengthAdjust="spacingAndGlyphs" transform="matrix(1 0.0005 0 1 0 0)">=</text>
<text x="286.12" y="451.35" font-size="9.94" textLength="34.28" lengthAdjust="spacingAndGlyphs" transform="matrix(1 0.0005 0 1 0 0)">0.959)</text>
<polyline fill="none" stroke="#1f77b4" stroke-width="1.35" stroke-opacity="0.88" stroke-linejoin="round" points="398.6,453.2 398.6,403.3 398.6,401.3 398.6,394.0 398.6,391.5 398.6,389.0 399.0,384.2 399.3,376.9 399.4,372.6 399.4,362.9 399.6,353.1 400.1,343.3 400.6,333.5 401.3,326.2 402.5,318.9 404.3,311.5 406.2,305.4 408.4,300.5 411.6,297.4 415.2,295.2 418.9,293.9 423.8,292.7 432.4,292.5 436.5,291.3 455.6,289.1 460.9,288.6 659.1,283.9"/>
<g fill="#1f77b4"><circle cx="398.6" cy="453.2" r="1.6"/><circle cx="398.6" cy="403.3" r="1.6"/><circle cx="398.6" cy="401.3" r="1.6"/><circle cx="398.6" cy="394.0" r="1.6"/><circle cx="398.6" cy="391.5" r="1.6"/><circle cx="398.6" cy="389.0" r="1.6"/><circle cx="399.0" cy="384.2" r="1.6"/><circle cx="399.3" cy="376.9" r="1.6"/><circle cx="399.2" cy="372.6" r="1.6"/><circle cx="399.3" cy="371.8" r="1.6"/><circle cx="399.2" cy="371.0" r="1.6"/><circle cx="399.4" cy="370.2" r="1.6"/><circle cx="399.5" cy="369.4" r="1.6"/><circle cx="399.3" cy="368.6" r="1.6"/><circle cx="399.1" cy="367.8" r="1.6"/><circle cx="399.2" cy="366.9" r="1.6"/><circle cx="399.3" cy="366.1" r="1.6"/><circle cx="399.5" cy="365.3" r="1.6"/><circle cx="399.6" cy="364.5" r="1.6"/><circle cx="399.3" cy="363.7" r="1.6"/><circle cx="399.6" cy="362.9" r="1.6"/><circle cx="399.5" cy="362.1" r="1.6"/><circle cx="399.4" cy="361.3" r="1.6"/><circle cx="399.4" cy="360.4" r="1.6"/><circle cx="399.5" cy="359.6" r="1.6"/><circle cx="399.6" cy="358.8" r="1.6"/><circle cx="399.5" cy="358.0" r="1.6"/><circle cx="399.6" cy="357.2" r="1.6"/><circle cx="399.5" cy="356.4" r="1.6"/><circle cx="399.4" cy="355.5" r="1.6"/><circle cx="399.6" cy="354.7" r="1.6"/><circle cx="399.7" cy="353.9" r="1.6"/><circle cx="399.3" cy="353.1" r="1.6"/><circle cx="399.6" cy="352.3" r="1.6"/><circle cx="399.6" cy="351.5" r="1.6"/><circle cx="400.0" cy="350.7" r="1.6"/><circle cx="400.0" cy="349.8" r="1.6"/><circle cx="399.7" cy="349.0" r="1.6"/><circle cx="400.1" cy="348.2" r="1.6"/><circle cx="400.1" cy="347.4" r="1.6"/><circle cx="399.8" cy="346.6" r="1.6"/><circle cx="400.0" cy="345.7" r="1.6"/><circle cx="399.8" cy="344.9" r="1.6"/><circle cx="400.2" cy="344.1" r="1.6"/><circle cx="400.2" cy="343.3" r="1.6"/><circle cx="400.4" cy="342.5" r="1.6"/><circle cx="400.4" cy="341.7" r="1.6"/><circle cx="400.3" cy="340.9" r="1.6"/><circle cx="400.4" cy="340.0" r="1.6"/><circle cx="400.3" cy="339.2" r="1.6"/><circle cx="400.1" cy="338.4" r="1.6"/><circle cx="400.4" cy="337.6" r="1.6"/><circle cx="400.1" cy="336.8" r="1.6"/><circle cx="400.3" cy="335.9" r="1.6"/><circle cx="400.7" cy="335.1" r="1.6"/><circle cx="400.3" cy="334.3" r="1.6"/><circle cx="400.4" cy="333.5" r="1.6"/><circle cx="400.4" cy="332.7" r="1.6"/><circle cx="401.0" cy="331.9" r="1.6"/><circle cx="400.6" cy="331.0" r="1.6"/><circle cx="400.6" cy="330.2" r="1.6"/><circle cx="401.2" cy="329.5" r="1.6"/><circle cx="400.8" cy="328.6" r="1.6"/><circle cx="401.3" cy="327.8" r="1.6"/><circle cx="401.3" cy="327.0" r="1.6"/><circle cx="401.5" cy="326.2" r="1.6"/><circle cx="401.7" cy="325.4" r="1.6"/><circle cx="401.6" cy="324.6" r="1.6"/><circle cx="401.9" cy="323.8" r="1.6"/><circle cx="401.6" cy="322.9" r="1.6"/><circle cx="402.1" cy="322.2" r="1.6"/><circle cx="402.1" cy="321.3" r="1.6"/><circle cx="402.4" cy="320.5" r="1.6"/><circle cx="402.1" cy="319.7" r="1.6"/><circle cx="402.6" cy="318.9" r="1.6"/><circle cx="403.0" cy="318.1" r="1.6"/><circle cx="402.6" cy="317.2" r="1.6"/><circle cx="403.0" cy="316.4" r="1.6"/><circle cx="403.3" cy="315.6" r="1.6"/><circle cx="403.7" cy="314.8" r="1.6"/><circle cx="403.5" cy="313.9" r="1.6"/><circle cx="403.7" cy="313.1" r="1.6"/><circle cx="404.0" cy="312.3" r="1.6"/><circle cx="404.4" cy="311.5" r="1.6"/><circle cx="404.7" cy="310.7" r="1.6"/><circle cx="404.8" cy="309.7" r="1.6"/><circle cx="405.0" cy="308.9" r="1.6"/><circle cx="405.3" cy="308.0" r="1.6"/><circle cx="405.6" cy="307.1" r="1.6"/><circle cx="405.9" cy="306.3" r="1.6"/><circle cx="406.0" cy="305.3" r="1.6"/><circle cx="406.6" cy="304.6" r="1.6"/><circle cx="407.2" cy="303.9" r="1.6"/><circle cx="407.3" cy="302.9" r="1.6"/><circle cx="407.8" cy="302.2" r="1.6"/><circle cx="407.8" cy="301.2" r="1.6"/><circle cx="408.5" cy="300.6" r="1.6"/><circle cx="409.1" cy="300.0" r="1.6"/><circle cx="409.8" cy="299.3" r="1.6"/><circle cx="410.3" cy="298.6" r="1.6"/><circle cx="411.0" cy="298.0" r="1.6"/><circle cx="411.6" cy="297.5" r="1.6"/><circle cx="412.4" cy="297.2" r="1.6"/><circle cx="412.9" cy="296.3" r="1.6"/><circle cx="413.6" cy="295.9" r="1.6"/><circle cx="414.6" cy="295.8" r="1.6"/><circle cx="415.3" cy="295.4" r="1.6"/><circle cx="416.1" cy="294.9" r="1.6"/><circle cx="417.0" cy="294.5" r="1.6"/><circle cx="418.0" cy="294.3" r="1.6"/><circle cx="418.9" cy="293.7" r="1.6"/><circle cx="419.7" cy="293.6" r="1.6"/><circle cx="420.5" cy="293.3" r="1.6"/><circle cx="421.4" cy="293.3" r="1.6"/><circle cx="422.1" cy="293.0" r="1.6"/><circle cx="422.9" cy="292.7" r="1.6"/><circle cx="423.8" cy="292.7" r="1.6"/><circle cx="423.8" cy="292.7" r="1.6"/><circle cx="432.4" cy="292.5" r="1.6"/><circle cx="436.5" cy="291.3" r="1.6"/><circle cx="455.6" cy="289.1" r="1.6"/><circle cx="460.9" cy="288.6" r="1.6"/><circle cx="659.1" cy="283.9" r="1.6"/><circle cx="433.6" cy="292.0" r="1.6"/><circle cx="435.0" cy="291.5" r="1.6"/><circle cx="457.0" cy="289.1" r="1.6"/><circle cx="458.5" cy="288.8" r="1.6"/><circle cx="459.7" cy="288.7" r="1.6"/></g>
<rect x="386.40" y="275.40" width="286.20" height="186.30" fill="none" stroke="#262626" stroke-width="0.9"/>
<text x="390.72" y="474.90" font-size="9.35" textLength="15.77" lengthAdjust="spacingAndGlyphs" transform="matrix(1 0.0005 0 1 0 0)">0.0</text>
<text x="363.43" y="456.61" font-size="9.35" textLength="15.77" lengthAdjust="spacingAndGlyphs" transform="matrix(1 0.0005 0 1 0 0)">0.0</text>
<text x="442.82" y="474.87" font-size="9.35" textLength="15.77" lengthAdjust="spacingAndGlyphs" transform="matrix(1 0.0005 0 1 0 0)">0.2</text>
<text x="363.43" y="422.77" font-size="9.35" textLength="15.77" lengthAdjust="spacingAndGlyphs" transform="matrix(1 0.0005 0 1 0 0)">0.2</text>
<text x="494.92" y="474.85" font-size="9.35" textLength="15.77" lengthAdjust="spacingAndGlyphs" transform="matrix(1 0.0005 0 1 0 0)">0.4</text>
<text x="363.43" y="388.93" font-size="9.35" textLength="15.77" lengthAdjust="spacingAndGlyphs" transform="matrix(1 0.0005 0 1 0 0)">0.4</text>
<text x="547.02" y="474.82" font-size="9.35" textLength="15.77" lengthAdjust="spacingAndGlyphs" transform="matrix(1 0.0005 0 1 0 0)">0.6</text>
<text x="363.43" y="355.09" font-size="9.35" textLength="15.77" lengthAdjust="spacingAndGlyphs" transform="matrix(1 0.0005 0 1 0 0)">0.6</text>
<text x="599.12" y="474.80" font-size="9.35" textLength="15.77" lengthAdjust="spacingAndGlyphs" transform="matrix(1 0.0005 0 1 0 0)">0.8</text>
<text x="363.43" y="321.25" font-size="9.35" textLength="15.77" lengthAdjust="spacingAndGlyphs" transform="matrix(1 0.0005 0 1 0 0)">0.8</text>
<text x="651.22" y="474.77" font-size="9.35" textLength="15.77" lengthAdjust="spacingAndGlyphs" transform="matrix(1 0.0005 0 1 0 0)">1.0</text>
<text x="363.43" y="287.41" font-size="9.35" textLength="15.77" lengthAdjust="spacingAndGlyphs" transform="matrix(1 0.0005 0 1 0 0)">1.0</text>
<path d="M398.60 461.70v3.3 M386.40 453.10h-3.3 M450.70 461.70v3.3 M386.40 419.26h-3.3 M502.80 461.70v3.3 M386.40 385.42h-3.3 M554.90 461.70v3.3 M386.40 351.58h-3.3 M607.00 461.70v3.3 M386.40 317.74h-3.3 M659.10 461.70v3.3 M386.40 283.90h-3.3" stroke="#111" stroke-width="1.2" fill="none"/>
<text x="374.16" y="270.01" font-size="11.61" textLength="26.79" lengthAdjust="spacingAndGlyphs" transform="matrix(1 0.0005 0 1 0 0)">ROC</text>
<text x="404.91" y="269.98" font-size="11.61" textLength="73.80" lengthAdjust="spacingAndGlyphs" transform="matrix(1 0.0005 0 1 0 0)">Curve-class</text>
<text x="482.67" y="269.95" font-size="11.61" textLength="30.66" lengthAdjust="spacingAndGlyphs" transform="matrix(1 0.0005 0 1 0 0)">level</text>
<text x="517.29" y="269.91" font-size="11.61" textLength="111.42" lengthAdjust="spacingAndGlyphs" transform="matrix(1 0.0005 0 1 0 0)">metrics-Balanced</text>
<text x="632.67" y="269.87" font-size="11.61" textLength="50.18" lengthAdjust="spacingAndGlyphs" transform="matrix(1 0.0005 0 1 0 0)">Dataset</text>
<text x="478.51" y="487.25" font-size="9.87" textLength="27.41" lengthAdjust="spacingAndGlyphs" transform="matrix(1 0.0005 0 1 0 0)">False</text>
<text x="509.19" y="487.23" font-size="9.87" textLength="42.38" lengthAdjust="spacingAndGlyphs" transform="matrix(1 0.0005 0 1 0 0)">Positive</text>
<text x="554.84" y="487.22" font-size="9.87" textLength="24.45" lengthAdjust="spacingAndGlyphs" transform="matrix(1 0.0005 0 1 0 0)">Rate</text>
<g transform="translate(357.10 369.55) rotate(-90)"><text x="-48.23" y="0.02" font-size="9.87" textLength="23.08" lengthAdjust="spacingAndGlyphs" transform="matrix(1 0.0005 0 1 0 0)">True</text>
<text x="-21.88" y="0.00" font-size="9.87" textLength="42.38" lengthAdjust="spacingAndGlyphs" transform="matrix(1 0.0005 0 1 0 0)">Positive</text>
<text x="23.78" y="-0.02" font-size="9.87" textLength="24.45" lengthAdjust="spacingAndGlyphs" transform="matrix(1 0.0005 0 1 0 0)">Rate</text></g>
<rect x="488.90" y="440.20" width="179.20" height="16.20" rx="1.8" fill="#fff" fill-opacity="0.8" stroke="#cccccc" stroke-width="0.8"/>
<line x1="492.69" y1="447.70" x2="511.63" y2="447.70" stroke="#1f77b4" stroke-width="1.35"/><circle cx="502.16" cy="447.70" r="1.7" fill="#1f77b4"/>
<text x="518.80" y="451.22" font-size="9.94" textLength="93.90" lengthAdjust="spacingAndGlyphs" transform="matrix(1 0.0005 0 1 0 0)">GB_model(AUROC</text>
<text x="615.99" y="451.19" font-size="9.94" textLength="7.93" lengthAdjust="spacingAndGlyphs" transform="matrix(1 0.0005 0 1 0 0)">=</text>
<text x="630.52" y="451.18" font-size="9.94" textLength="34.28" lengthAdjust="spacingAndGlyphs" transform="matrix(1 0.0005 0 1 0 0)">0.970)</text>
</svg>
</body></html>
